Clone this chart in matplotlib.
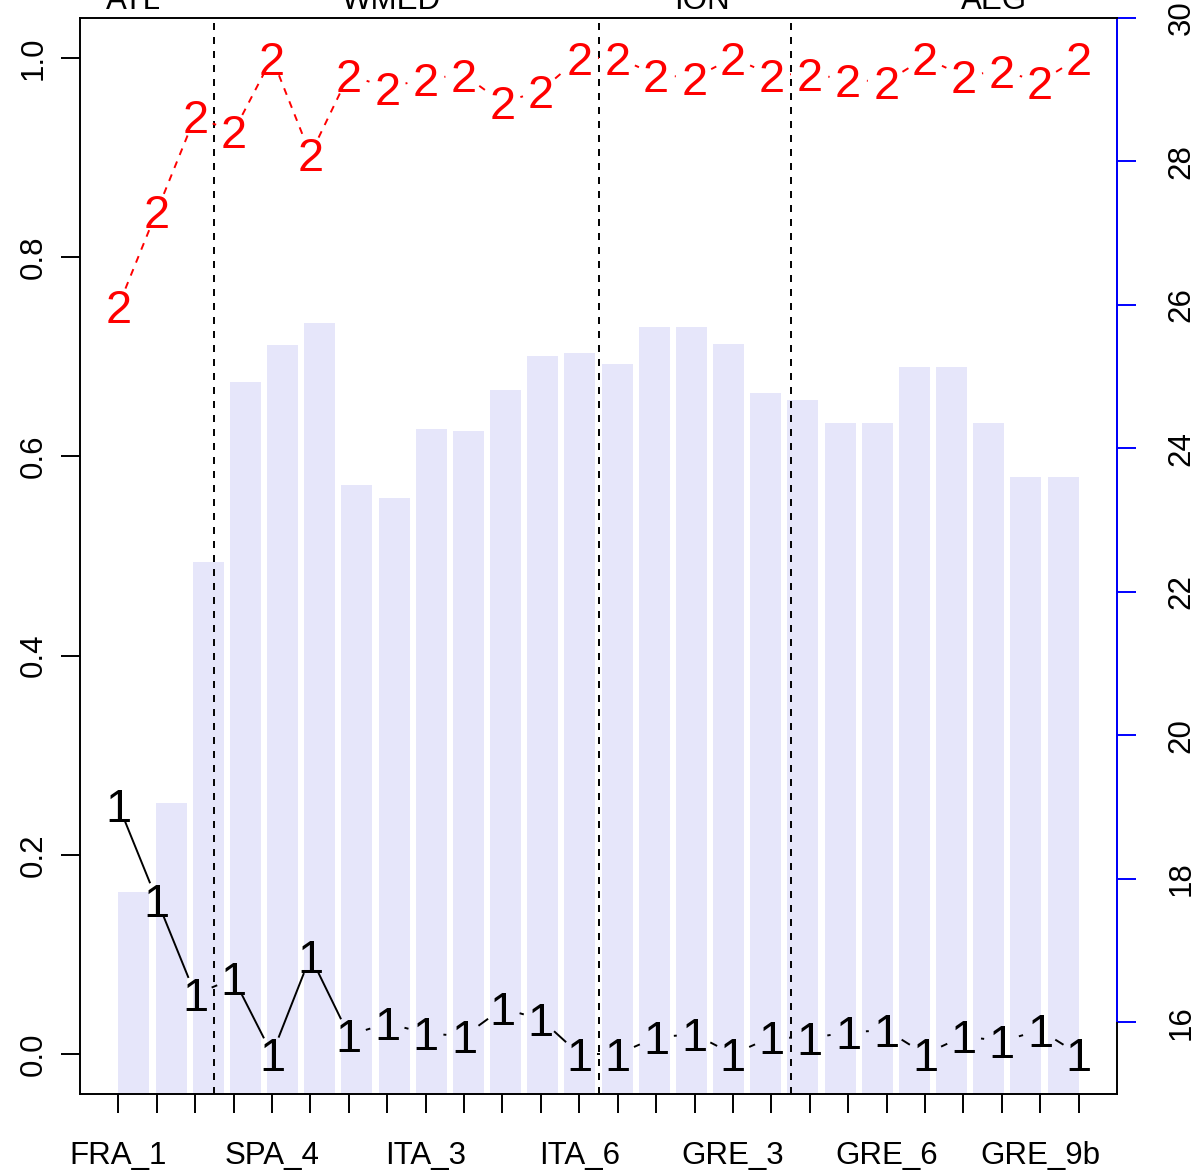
import numpy as np
import matplotlib
matplotlib.use("Agg")
import matplotlib.pyplot as plt
import matplotlib.transforms as mtransforms

plt.rcParams['font.family'] = ['Liberation Sans', 'DejaVu Sans']

# station labels (only every 4th one is printed on the axis)
stations = ['FRA_1', '', '', '', 'SPA_4', '', '', '', 'ITA_3', '', '', '', 'ITA_6',
            '', '', '', 'GRE_3', '', '', '', 'GRE_6', '', '', '', 'GRE_9b', '']
# bars, right (blue) axis
bar_vals = [17.82, 19.05, 22.41, 24.93, 25.44, 25.75, 23.49, 23.31, 24.27, 24.24,
            24.81, 25.29, 25.33, 25.18, 25.69, 25.69, 25.46, 24.77, 24.67, 24.35,
            24.35, 25.13, 25.13, 24.35, 23.60, 23.60]
# proportions, left axis
prop1 = [0.250, 0.155, 0.060, 0.076, 0.0, 0.098, 0.019, 0.031, 0.021, 0.018,
         0.046, 0.035, 0.0, 0.0, 0.017, 0.020, 0.0, 0.017, 0.016, 0.022,
         0.024, 0.0, 0.018, 0.013, 0.024, 0.0]
prop2 = [0.751, 0.846, 0.941, 0.926, 1.0, 0.903, 0.983, 0.970, 0.979, 0.983,
         0.955, 0.967, 1.0, 1.0, 0.983, 0.980, 1.0, 0.983, 0.984, 0.978,
         0.976, 1.0, 0.982, 0.987, 0.976, 1.0]
regions = ['ATL', 'WMED', 'ION', 'AEG']
region_x = [1.4, 8.1, 16.2, 23.8]
region_breaks = [3.5, 13.5, 18.5]

FS = 22.5
PCH = 33.75
LW = 1.4
TL = 13.5

fig = plt.figure(figsize=(11.97, 11.76), dpi=100)
rect = [80 / 1197, (1176 - 1094) / 1176, 1037 / 1197, 1076 / 1176]

# bar layer (R barplot coordinates)
axb = fig.add_axes(rect, label='bars')
xb = 0.7 + 1.2 * np.arange(len(bar_vals))
axb.bar(xb, bar_vals, width=1.0, color='lavender', edgecolor='none')
axb.set_xlim(-1.04, 32.44)
axb.set_ylim(15, 30)
axb.set_xticks([])
axb.yaxis.tick_right()
axb.set_yticks(range(16, 31, 2))
axb.tick_params(axis='y', color='blue', labelcolor='black', length=TL, width=LW,
                labelsize=FS, labelrotation=90, pad=33.2)
for lbl in axb.get_yticklabels():
    lbl.set_ha('center')
    lbl.set_va('center')
for s in ['left', 'top', 'bottom']:
    axb.spines[s].set_visible(False)
axb.spines['right'].set_linewidth(LW)
axb.plot([1, 1], [16, 30], transform=axb.get_yaxis_transform(), color='blue',
         lw=LW, clip_on=False, zorder=5, solid_capstyle='butt')

# points layer
ax = fig.add_axes(rect, label='points', facecolor='none')
ax.set_xlim(0, 27)
ax.set_ylim(-0.04, 1.04)
ax.spines['right'].set_visible(False)
for s in ['left', 'top', 'bottom']:
    ax.spines[s].set_linewidth(LW)
xs = np.arange(1, len(prop1) + 1)
ax.set_xticks(xs)
ax.set_xticklabels(stations)
ax.set_yticks([0, 0.2, 0.4, 0.6, 0.8, 1.0])
ax.set_yticklabels(['0.0', '0.2', '0.4', '0.6', '0.8', '1.0'])
ax.tick_params(axis='x', length=TL, width=LW, labelsize=FS, pad=20.3)
ax.tick_params(axis='y', length=TL, width=LW, labelsize=FS, labelrotation=90, pad=20.1)
for lbl in ax.get_yticklabels():
    lbl.set_ha('center')
    lbl.set_va('center')

for b in region_breaks:
    ax.axvline(b, color='black', lw=LW, ls=(0, (3.6, 3.6)))

GAP = 18.75  # px, like R type="b"


def gapped(ys, color, ls):
    pts = ax.transData.transform(np.column_stack([xs, ys]))
    inv = ax.transData.inverted()
    for i in range(len(pts) - 1):
        p, q = pts[i], pts[i + 1]
        d = q - p
        L = np.hypot(d[0], d[1])
        if L <= 2 * GAP:
            continue
        u = d / L
        seg = inv.transform(np.array([p + u * GAP, q - u * GAP]))
        ax.plot(seg[:, 0], seg[:, 1], color=color, ls=ls, lw=LW, zorder=3)
    off = ax.transData + mtransforms.ScaledTranslation(0, -0.358 * PCH / 72, fig.dpi_scale_trans)
    return off


off = gapped(prop1, 'black', '-')
for x, y in zip(xs, prop1):
    ax.text(x, y, '1', color='black', fontsize=PCH, ha='center', va='baseline',
            transform=off, zorder=4)
off = gapped(prop2, 'red', (0, (3.6, 3.6)))
for x, y in zip(xs, prop2):
    ax.text(x, y, '2', color='red', fontsize=PCH, ha='center', va='baseline',
            transform=off, zorder=4)

# region names at the top (partly cut off by the figure edge)
tr = mtransforms.blended_transform_factory(ax.transData, fig.transFigure)
for name, x in zip(regions, region_x):
    ax.text(x, 1 - 9 / 1176, name, transform=tr, ha='center', va='baseline',
            fontsize=FS, clip_on=False)

fig.savefig('out.png', dpi=100)
